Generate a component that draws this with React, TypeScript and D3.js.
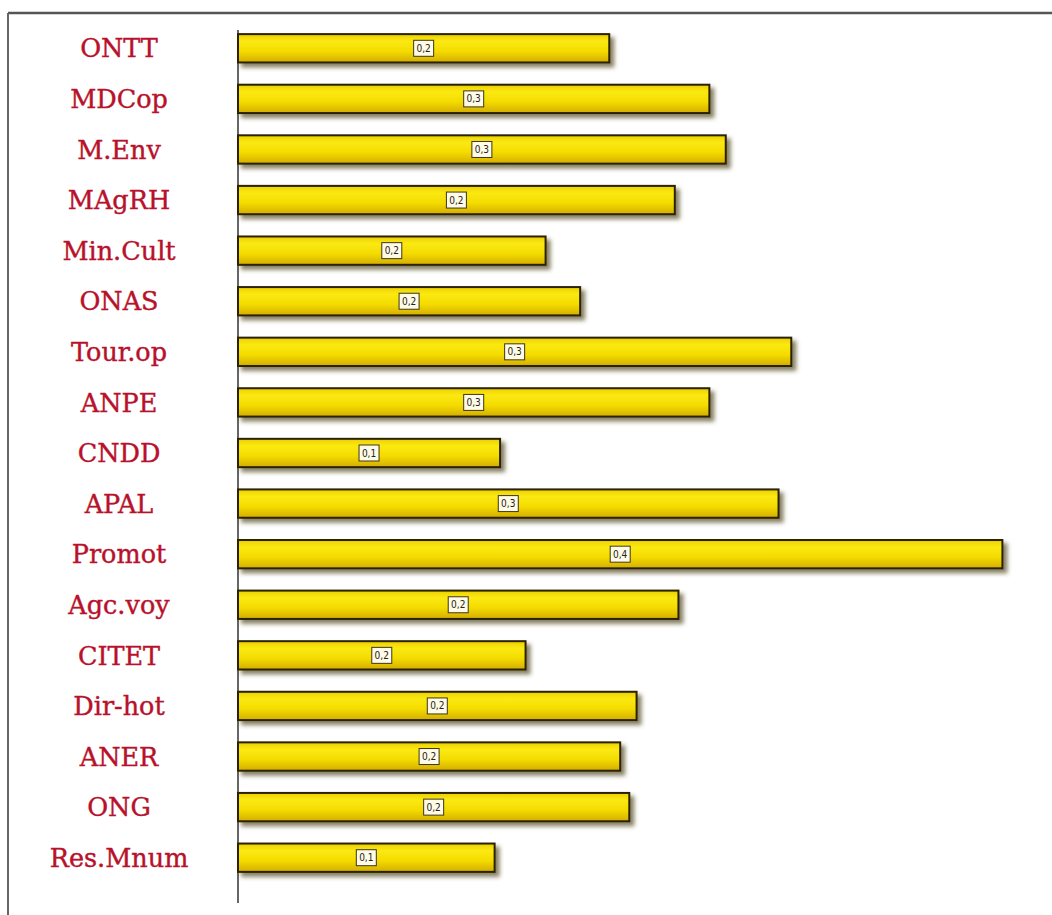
import React from 'react';
import * as d3 from 'd3';

// categories, top to bottom
const categories = [
  'ONTT', 'MDCop', 'M.Env', 'MAgRH', 'Min.Cult', 'ONAS', 'Tour.op', 'ANPE', 'CNDD',
  'APAL', 'Promot', 'Agc.voy', 'CITET', 'Dir-hot', 'ANER', 'ONG', 'Res.Mnum',
];
// values
const values = [
  0.204, 0.259, 0.268, 0.240, 0.169, 0.188, 0.304, 0.259, 0.144,
  0.297, 0.420, 0.242, 0.158, 0.219, 0.210, 0.215, 0.141,
];
// labels as printed on the bars
const valueLabels = [
  '0,2', '0,3', '0,3', '0,2', '0,2', '0,2', '0,3', '0,3', '0,1',
  '0,3', '0,4', '0,2', '0,2', '0,2', '0,2', '0,2', '0,1',
];

const width = 1052;
const height = 915;

const App: React.FC = () => {
  const x = d3.scaleLinear().domain([0, 0.45]).range([238, 1057]);
  const y = d3.scaleBand<string>().domain(categories).range([23, 883]).paddingInner(0.44).paddingOuter(0.22);
  const bh = y.bandwidth();

  return (
    <div style={{ position: 'absolute', left: 0, top: 0 }}>
      <svg width={width} height={height} style={{ display: 'block', background: '#fff' }}>
        <defs>
          <linearGradient id="barGrad" x1="0" y1="0" x2="0" y2="1">
            <stop offset="0%" stopColor="#eccf00" />
            <stop offset="25%" stopColor="#fbe912" />
            <stop offset="60%" stopColor="#f4dc00" />
            <stop offset="100%" stopColor="#d4ad00" />
          </linearGradient>
          <filter id="shadow" x="-5%" y="-30%" width="115%" height="180%">
            <feDropShadow dx="4" dy="4" stdDeviation="2" floodColor="#4a3c18" floodOpacity="0.65" />
          </filter>
        </defs>

        {/* frame */}
        <line x1={8} y1={13} x2={width} y2={13} stroke="#555" strokeWidth={2.5} />
        <line x1={8} y1={13} x2={8} y2={height} stroke="#666" strokeWidth={2} />

        {/* category labels */}
        {categories.map((c) => (
          <text
            key={c}
            x={119}
            y={(y(c) ?? 0) + bh / 2}
            dy="0.36em"
            textAnchor="middle"
            fontFamily="'DejaVu Serif', serif"
            fontSize={25.5}
            fill="#b8112b"
            stroke="#b8112b"
            strokeWidth={0.4}
          >
            {c}
          </text>
        ))}

        {/* axis line */}
        <line x1={x(0)} y1={30} x2={x(0)} y2={903} stroke="#333" strokeWidth={1.5} />

        {/* bars */}
        {categories.map((c, i) => {
          const y0 = y(c) ?? 0;
          const w = x(values[i]) - x(0);
          const cx = x(0) + w / 2;
          return (
            <g key={c}>
              <rect
                x={x(0)}
                y={y0}
                width={w}
                height={bh}
                fill="url(#barGrad)"
                stroke="#2a2200"
                strokeWidth={2}
                filter="url(#shadow)"
              />
              <rect x={cx - 10} y={y0 + bh / 2 - 8} width={20} height={16} fill="#fffbe6" stroke="#3a3420" strokeWidth={1} />
              <text
                x={cx}
                y={y0 + bh / 2}
                dy="0.35em"
                textAnchor="middle"
                fontFamily="'DejaVu Sans Condensed', 'DejaVu Sans', sans-serif"
                fontSize={10}
                fill="#222"
              >
                {valueLabels[i]}
              </text>
            </g>
          );
        })}
      </svg>
    </div>
  );
};

export default App;
